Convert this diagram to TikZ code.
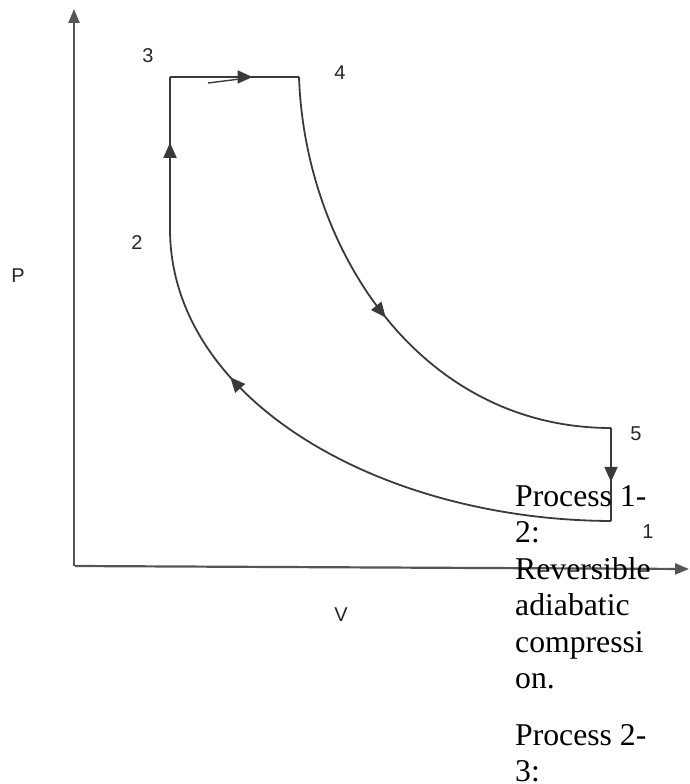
\documentclass[tikz,border=0pt]{standalone}
\usepackage{fontspec}
\setmainfont{Liberation Serif}
\newfontfamily\labelfont{Liberation Sans}
\usetikzlibrary{arrows.meta,decorations.markings}
\definecolor{linegray}{HTML}{3A3A3A}
\definecolor{axisgray}{HTML}{555555}
\tikzset{
  cycleline/.style={draw=linegray, line width=1.8pt},
  axisline/.style={draw=axisgray, line width=2.2pt, -{Triangle[length=14pt,width=11pt]}},
  midarrow/.style={postaction={decorate}, decoration={markings,
      mark=at position #1 with {\arrow{Triangle[length=15pt,width=13pt]}}}},
  ptlabel/.style={font=\labelfont\fontsize{20}{23}\selectfont, text=black!85, inner sep=0pt},
}
\begin{document}
\begin{tikzpicture}[x=1pt,y=-1pt]
\useasboundingbox (0,0) rectangle (689,784);
% axes
\coordinate (O) at (74,566);
\coordinate (ytop) at (74,9);
\coordinate (xO) at (75,566);
\coordinate (xend) at (689,569);
\draw[axisline] (O) -- (ytop);
\draw[axisline] (xO) -- (xend);
% cycle points
\coordinate (p1) at (611,521);
\coordinate (p2) at (170,230);
\coordinate (p3) at (170,77);
\coordinate (p4) at (299,77);
\coordinate (p5) at (611,428);
\coordinate (s1) at (208,83);
\coordinate (s2) at (240,79);
% processes
\draw[cycleline, midarrow=0.57] (p2) -- (p3);
\draw[cycleline, midarrow=0.64] (p3) -- (p4);
\draw[cycleline, line width=1.4pt] (s1) -- (s2);
\draw[cycleline, midarrow=0.5] (p4) .. controls (305,250) and (420,428) .. (p5);
\draw[cycleline, midarrow=0.58] (p5) -- (p1);
\draw[cycleline, midarrow=0.72] (p1) .. controls (380,520) and (171,400) .. (p2);
% labels
\node[ptlabel] (l3) at (148,56) {3};
\node[ptlabel] (l4) at (340,73) {4};
\node[ptlabel] (l2) at (137,243) {2};
\node[ptlabel] (l5) at (636,434) {5};
\node[ptlabel] (l1) at (648,532) {1};
\node[ptlabel] (lP) at (18,276) {P};
\node[ptlabel] (lV) at (341,615) {V};
% text
\node[anchor=base west, inner sep=0pt] (txt) at (515,506)
  {\parbox[t]{170pt}{\raggedright\fontsize{31.7}{36.5}\selectfont
   Process 1-\\2:\\Reversible\\adiabatic\\compressi\\on.\\[20pt]Process 2-\\3:}};
\end{tikzpicture}
\end{document}
